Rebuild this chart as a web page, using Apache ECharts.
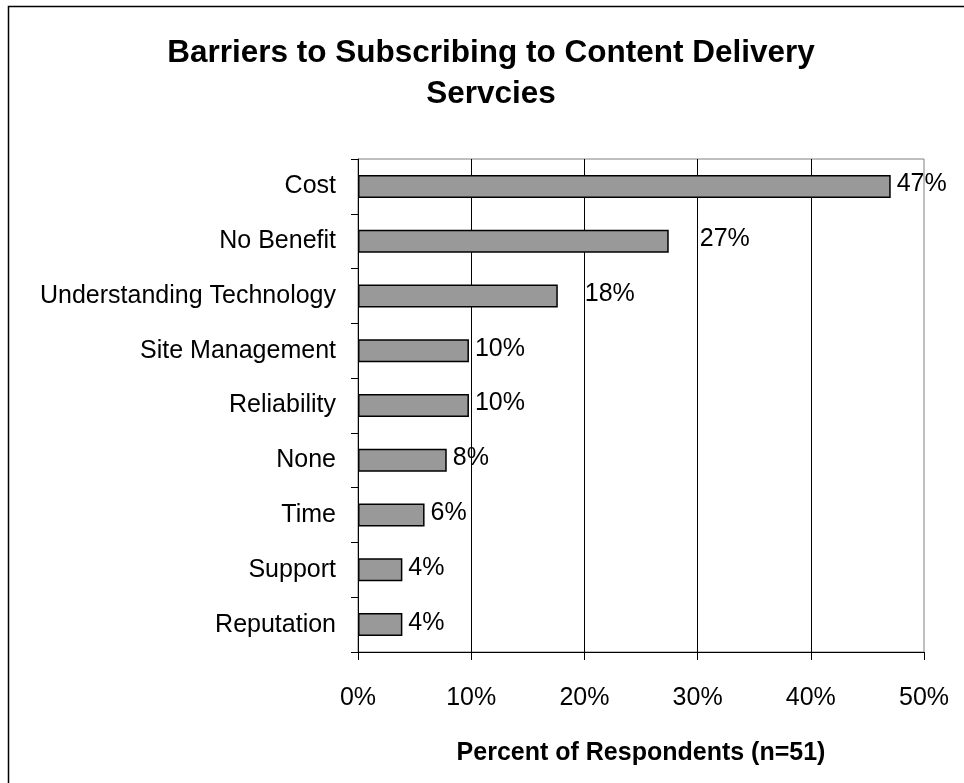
<!DOCTYPE html>
<html>
<head>
<meta charset="utf-8">
<title>Barriers to Subscribing to Content Delivery Servcies</title>
<script src="https://cdn.jsdelivr.net/npm/echarts@6/dist/echarts.min.js"></script>
<style>
  html, body { margin: 0; padding: 0; background: #fff; }
  #chart { width: 964px; height: 783px; }
</style>
</head>
<body>
<div id="chart"></div>
<script>
// Survey answers: share of respondents (n=51) naming each barrier, in percent
const categories = ['Cost', 'No Benefit', 'Understanding Technology', 'Site Management',
  'Reliability', 'None', 'Time', 'Support', 'Reputation'];
const percentValues = [47.06, 27.45, 17.65, 9.80, 9.80, 7.84, 5.88, 3.92, 3.92];
const tickValues = [0, 10, 20, 30, 40, 50];

const titleLines = ['Barriers to Subscribing to Content Delivery', 'Servcies'];
const axisTitle = 'Percent of Respondents (n=51)';

const FONT = '"Liberation Sans", Arial, Helvetica, sans-serif';

// a couple of value labels sit further out from their bars
const labelGap = { 'No Benefit': 31, 'Understanding Technology': 27 };

const chart = echarts.init(document.getElementById('chart'), null, { renderer: 'canvas' });

const seriesData = categories.map((name, i) => ({
  value: percentValues[i],
  label: { distance: labelGap[name] !== undefined ? labelGap[name] : 6 }
}));

chart.setOption({
  backgroundColor: '#ffffff',
  animation: false,
  textStyle: { fontFamily: FONT },
  graphic: [
    {
      // chart frame: its right and bottom edges run past the page
      type: 'rect',
      shape: { x: 8.5, y: 6.5, width: 1000, height: 820 },
      style: { fill: 'none', stroke: '#000', lineWidth: 1.5 },
      silent: true
    },
    {
      type: 'text',
      x: 491,
      y: 33,
      style: {
        text: titleLines.join('\n'),
        align: 'center',
        verticalAlign: 'top',
        font: 'bold 31.5px ' + FONT,
        lineHeight: 41,
        fill: '#000'
      }
    }
  ],
  grid: {
    left: 358,
    right: 964 - 924,
    top: 159,
    bottom: 783 - 652,
    show: true,
    borderColor: '#808080',
    borderWidth: 1,
    containLabel: false
  },
  xAxis: {
    type: 'value',
    min: tickValues[0],
    max: tickValues[tickValues.length - 1],
    interval: tickValues[1] - tickValues[0],
    name: axisTitle,
    nameLocation: 'middle',
    nameGap: 89,
    nameTextStyle: { fontSize: 25, fontWeight: 'bold', color: '#000', fontFamily: FONT },
    axisLine: { show: true, lineStyle: { color: '#000', width: 1 } },
    axisTick: { show: true, length: 8, lineStyle: { color: '#000' } },
    axisLabel: {
      fontSize: 25, color: '#000', margin: 34, fontFamily: FONT,
      formatter: v => v + '%'
    },
    splitLine: {
      show: true,
      showMinLine: false,
      showMaxLine: false,
      lineStyle: { color: '#000', width: 1 }
    }
  },
  yAxis: {
    type: 'category',
    data: categories,
    inverse: true,
    axisLine: { show: true, lineStyle: { color: '#000', width: 1 } },
    axisTick: { show: true, length: 7, inside: false, lineStyle: { color: '#000' } },
    axisLabel: { fontSize: 25, color: '#000', margin: 22, fontFamily: FONT },
    splitLine: { show: false }
  },
  series: [{
    type: 'bar',
    data: seriesData,
    barWidth: 23,
    itemStyle: { color: '#999999', borderColor: '#000', borderWidth: 1.5 },
    label: {
      show: true,
      position: 'right',
      offset: [0, -2],
      fontSize: 25,
      color: '#000',
      fontFamily: FONT,
      formatter: p => Math.round(p.value) + '%'
    }
  }]
});
</script>
</body>
</html>
